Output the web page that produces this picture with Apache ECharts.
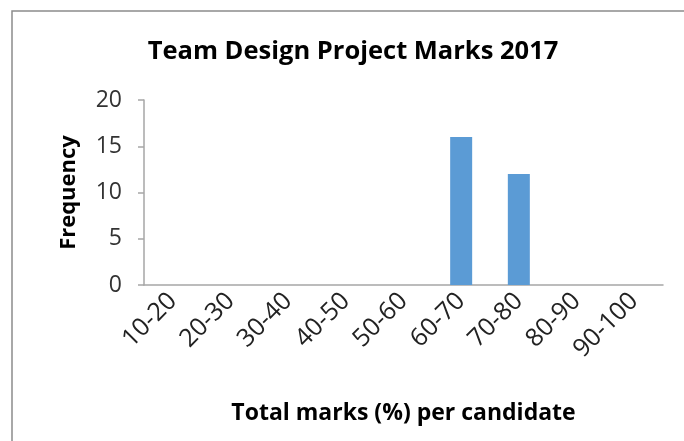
<!DOCTYPE html>
<html>
<head>
<meta charset="utf-8">
<script src="https://cdn.jsdelivr.net/npm/echarts@6/dist/echarts.min.js"></script>
<style>
  html, body { margin: 0; padding: 0; background: #fff; }
  #chart { width: 684px; height: 441px; }
</style>
</head>
<body>
<div id="chart"></div>
<script>
// Mark bands (%) and number of candidates in each band
const markBands = ['10-20', '20-30', '30-40', '40-50', '50-60', '60-70', '70-80', '80-90', '90-100'];
const frequency = [0, 0, 0, 0, 0, 16, 12, 0, 0];
const yTicks = { min: 0, max: 20, interval: 5 };

const chart = echarts.init(document.getElementById('chart'), null, { renderer: 'canvas' });
const axisGrey = '#a6a6a6';
const fontFamily = '"Open Sans", "Noto Sans", sans-serif';

chart.setOption({
  animation: false,
  backgroundColor: '#ffffff',
  graphic: [{
    type: 'rect',
    shape: { x: 12, y: 11, width: 720, height: 460 },
    style: { fill: 'none', stroke: '#8c8c8c', lineWidth: 1.5 },
    silent: true
  }],
  title: {
    text: 'Team Design Project Marks 2017',
    left: 348,
    top: 34,
    textAlign: 'center',
    textStyle: { fontFamily, fontWeight: 'bold', fontSize: 25.5, color: '#000' }
  },
  grid: { left: 144, right: 21, top: 100, bottom: 156, containLabel: false },
  xAxis: {
    type: 'category',
    data: markBands,
    name: 'Total marks (%) per candidate',
    nameLocation: 'middle',
    nameGap: 117,
    nameTextStyle: { fontFamily, fontWeight: 'bold', fontSize: 23, color: '#000' },
    axisLine: { lineStyle: { color: axisGrey, width: 1.5 } },
    axisTick: { alignWithLabel: false, length: 6, lineStyle: { color: axisGrey, width: 1.5 } },
    axisLabel: { rotate: 45, margin: 12, fontFamily, fontSize: 25, color: '#222', interval: 0 }
  },
  yAxis: {
    type: 'value',
    min: yTicks.min,
    max: yTicks.max,
    interval: yTicks.interval,
    name: 'Frequency',
    nameLocation: 'middle',
    nameGap: 64,
    nameTextStyle: { fontFamily, fontWeight: 'bold', fontSize: 22, color: '#000' },
    axisLine: { show: true, lineStyle: { color: axisGrey, width: 1.5 } },
    axisTick: { show: true, length: 6, lineStyle: { color: axisGrey, width: 1.5 } },
    axisLabel: { margin: 22, fontFamily, fontSize: 23, color: '#333' },
    splitLine: { show: false }
  },
  series: [{
    type: 'bar',
    data: frequency,
    barWidth: 22,
    itemStyle: { color: '#5b9bd5' }
  }]
});
</script>
</body>
</html>
